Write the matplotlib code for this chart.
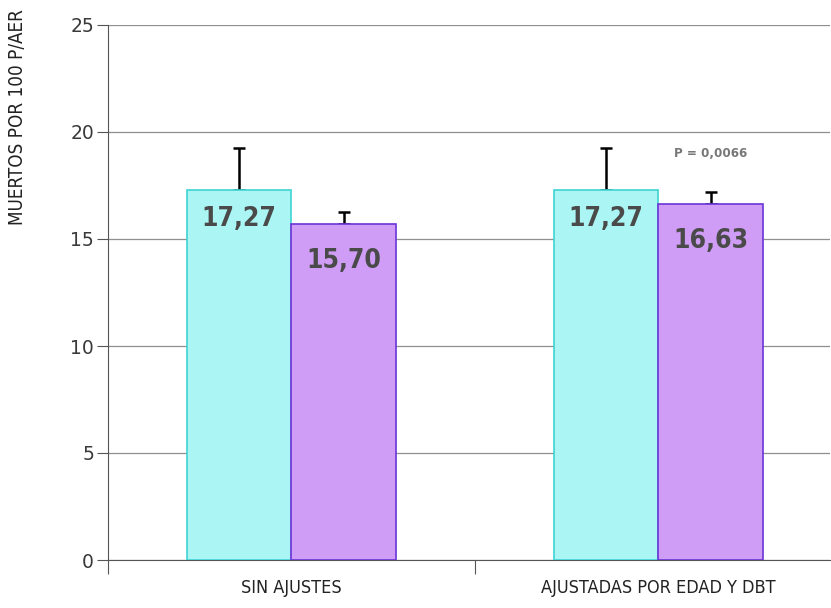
import matplotlib
matplotlib.use("Agg")
import matplotlib.pyplot as plt
from matplotlib import font_manager
import numpy as np

# datos
categorias = ["SIN AJUSTES", "AJUSTADAS POR EDAD Y DBT"]
serie_a = [17.27, 17.27]
serie_b = [15.70, 16.63]
error_a = [2.0, 2.0]
error_b = [0.58, 0.58]
etiquetas_a = ["17,27", "17,27"]
etiquetas_b = ["15,70", "16,63"]
texto_p = "P = 0,0066"
y_ticks = [0, 5, 10, 15, 20, 25]

# fuente estrecha si existe
cond = [f for f in font_manager.fontManager.ttflist
        if "condensed" in str(f.stretch).lower() or "Condensed" in f.name or "Narrow" in f.name]
cond_bold = [f for f in cond if "Bold" in f.fname and "Oblique" not in f.fname and "Italic" not in f.fname]
cond_reg = [f for f in cond if "Bold" not in f.fname and "Oblique" not in f.fname and "Italic" not in f.fname]
fp_reg = font_manager.FontProperties(fname=cond_reg[0].fname) if cond_reg else font_manager.FontProperties()
fp_bold = (font_manager.FontProperties(fname=cond_bold[0].fname) if cond_bold
           else font_manager.FontProperties(weight="bold"))

fig = plt.figure(figsize=(8.31, 6.08), dpi=100)
ax = fig.add_axes([108 / 831, 48 / 608, 722 / 831, 535 / 608])

x = np.arange(len(categorias))
w = 0.286

col_a, edge_a = "#abf5f5", "#3fd3d3"
col_b, edge_b = "#cf9df5", "#6a35d6"

ax.bar(x - w / 2, serie_a, w, color=col_a, edgecolor=edge_a, linewidth=1.2, zorder=3)
ax.bar(x + w / 2, serie_b, w, color=col_b, edgecolor=edge_b, linewidth=1.2, zorder=3)
ax.errorbar(x - w / 2, serie_a, yerr=[np.zeros(2), error_a], fmt="none",
            ecolor="black", elinewidth=1.8, capsize=4.5, capthick=1.8, zorder=2)
ax.errorbar(x + w / 2, serie_b, yerr=[np.zeros(2), error_b], fmt="none",
            ecolor="black", elinewidth=1.8, capsize=4.5, capthick=1.8, zorder=2)

for i in range(len(categorias)):
    ax.text(x[i] - w / 2, serie_a[i] - 0.75, etiquetas_a[i], ha="center", va="top",
            fontproperties=fp_bold, fontsize=19, color="#4a4a4a", zorder=4)
    ax.text(x[i] + w / 2, serie_b[i] - 1.1, etiquetas_b[i], ha="center", va="top",
            fontproperties=fp_bold, fontsize=19, color="#4a4a4a", zorder=4)

ax.text(x[1] + w / 2, 19.0, texto_p, ha="center", va="center", fontproperties=fp_bold,
        fontsize=9.5, color="#777777")

ax.set_ylim(0, 25)
ax.set_xlim(-0.5, 1.5 - 12 / 367)
ax.set_yticks(y_ticks)
ax.set_yticklabels([str(v) for v in y_ticks], fontsize=13.5, color="#3a3a3a")
ax.set_xticks([-0.5, 0.5])
ax.set_xticklabels([])
ax.set_xticks(x, minor=True)
ax.set_xticklabels(categorias, minor=True, fontproperties=fp_reg, fontsize=13, color="#222222")
ax.tick_params(axis="x", which="minor", length=0, pad=14)
ax.tick_params(axis="x", which="major", length=10, color="#555555", direction="out")
ax.tick_params(axis="y", length=8, color="#555555", pad=2)

ax.yaxis.grid(True, color="#8f8f8f", linewidth=0.9, zorder=0)
ax.set_axisbelow(True)
for s in ["top", "right"]:
    ax.spines[s].set_visible(False)
ax.spines["left"].set_color("#555555")
ax.spines["bottom"].set_color("#555555")

fig.text(18 / 831, 1 - 9 / 608, "MUERTOS POR 100 P/AER", rotation=90, ha="center",
         va="top", fontproperties=fp_reg, fontsize=13.5, color="#222222")

fig.savefig("out.png", dpi=100)
